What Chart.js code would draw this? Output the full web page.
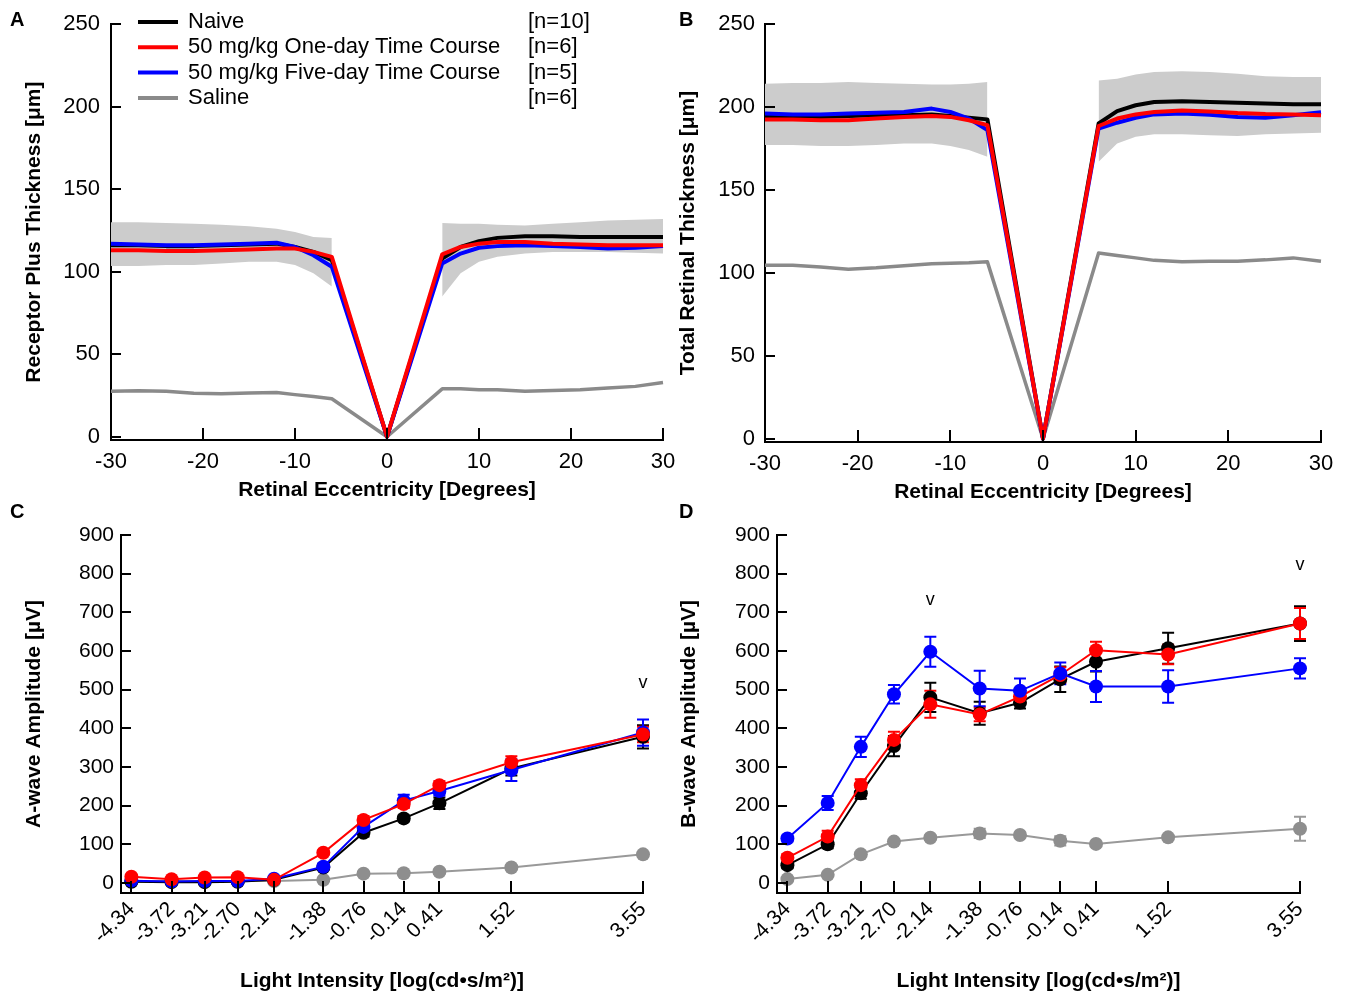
<!DOCTYPE html>
<html>
<head>
<meta charset="utf-8">
<title>Retinal thickness and ERG amplitudes</title>
<script src="https://cdn.jsdelivr.net/npm/chart.js@4.4.1/dist/chart.umd.min.js"></script>
<style>
  html, body { margin: 0; padding: 0; background: #fff; }
  #wrap { position: relative; width: 1346px; height: 996px; }
  #wrap canvas { position: absolute; left: 0; top: 0; }
</style>
</head>
<body>
<div id="wrap">
  <canvas id="panelA" width="1346" height="996"></canvas>
  <canvas id="panelB" width="1346" height="996"></canvas>
  <canvas id="panelC" width="1346" height="996"></canvas>
  <canvas id="panelD" width="1346" height="996"></canvas>
</div>
<script>
// groups
const groupNames = ["Naive", "50 mg/kg One-day Time Course", "50 mg/kg Five-day Time Course", "Saline"];
const groupCounts = ["[n=10]", "[n=6]", "[n=5]", "[n=6]"];

// OCT thickness profiles (µm) along the eccentricity axis
const eccentricity = [-30, -27, -24, -21, -18, -15, -12, -10, -8, -6, 0, 6, 8, 10, 12, 15, 18, 21, 24, 27, 30];
const eccLeft = [-30, -27, -24, -21, -18, -15, -12, -10, -8, -6];
const eccRight = [6, 8, 10, 12, 15, 18, 21, 24, 27, 30];
const eccTicks = [-30, -20, -10, 0, 10, 20, 30];
const thicknessTicks = [0, 50, 100, 150, 200, 250];

const receptorNaive = [116, 116, 115.5, 115.5, 116, 116.5, 117, 115, 112, 107, 0, 108, 115, 118.5, 120.5, 121.5, 121.5, 121, 121, 121, 121];
const receptorOneDay = [113, 113, 112.5, 112.5, 113, 113.5, 114, 114, 112, 109, 0, 110.5, 115, 117, 118, 118, 117, 116.5, 116, 116, 116];
const receptorFiveDay = [117, 116.5, 116, 116, 116.5, 117, 117.5, 115, 110, 103, 0, 105, 111, 114.5, 115.5, 116, 115.5, 115, 114, 114.5, 115.5];
const receptorSaline = [27.5, 27.8, 27.5, 26.3, 26, 26.5, 26.8, 25.5, 24.3, 23, 0, 29, 29, 28.5, 28.5, 27.5, 28, 28.5, 29.5, 30.5, 32.8];
const receptorBandUpperL = [130, 130, 129.5, 129, 128.5, 127.5, 126, 124, 121, 120.5];
const receptorBandLowerL = [103.5, 103.5, 104, 104, 105, 106, 106, 104, 99, 91];
const receptorBandUpperR = [129.5, 129, 129, 128.5, 128, 129, 130, 131, 131.5, 132];
const receptorBandLowerR = [85, 99, 106, 109, 111, 112, 112, 112, 111.5, 111];

const totalNaive = [194, 194, 194, 194.5, 195, 195, 195.5, 194.5, 193.5, 192.5, 0, 190, 197.5, 201, 203, 203.5, 203, 202.5, 202, 201.6, 201.6];
const totalOneDay = [192.5, 192.5, 192, 192, 193, 194, 194.5, 194, 192, 189, 0, 188.5, 193, 195.5, 197, 197.8, 197.3, 196.3, 195.7, 195.5, 195];
const totalFiveDay = [196, 195.5, 195.5, 196, 196.5, 197, 199, 197, 193, 186, 0, 187, 190.5, 193.5, 195.5, 196, 195.3, 194, 193.5, 195, 196.8];
const totalSaline = [104.5, 104.5, 103.5, 102.2, 103, 104.2, 105.5, 105.8, 106, 106.6, 0, 112, 110.5, 109, 107.5, 106.6, 107, 107, 107.8, 109, 107];
const totalBandUpperL = [214, 214.5, 214.5, 215, 214.5, 214, 213.5, 213.5, 214, 215];
const totalBandLowerL = [177, 177, 176.5, 176.5, 177, 178, 178, 176.5, 174, 170];
const totalBandUpperR = [216, 217, 219.5, 221, 221.5, 221, 220, 218.5, 218, 218];
const totalBandLowerR = [167, 178, 182, 183.5, 183.5, 183, 182.5, 183.5, 184, 184.5];

// ERG amplitudes (µV) vs flash intensity
const lightLevels = [-4.34, -3.72, -3.21, -2.70, -2.14, -1.38, -0.76, -0.14, 0.41, 1.52, 3.55];
const lightTickLabels = ["-4.34", "-3.72", "-3.21", "-2.70", "-2.14", "-1.38", "-0.76", "-0.14", "0.41", "1.52", "3.55"];
const amplitudeTicks = [0, 100, 200, 300, 400, 500, 600, 700, 800, 900];

const aWaveNaive = [3, 2, 2, 3, 8, 40, 130, 167, 206, 296, 378];
const aWaveNaiveErr = [3, 3, 3, 3, 3, 5, 10, 8, 15, 18, 30];
const aWaveOneDay = [16, 9.5, 14, 15, 8, 78, 163, 204, 253, 312, 384];
const aWaveOneDayErr = [3, 3, 3, 3, 3, 6, 10, 10, 10, 16, 20];
const aWaveFiveDay = [6, 4, 5, 5, 11, 42, 145, 213, 238, 292, 389];
const aWaveFiveDayErr = [3, 3, 3, 3, 3, 8, 10, 15, 12, 28, 34];
const aWaveSaline = [5, 5, 5, 5, 5, 8, 24, 25, 29, 40, 74];
const aWaveSalineErr = [2, 2, 2, 2, 2, 3, 4, 4, 5, 5, 6];

const bWaveNaive = [46, 100, 232, 354, 480, 439, 466, 527, 572, 607, 671];
const bWaveNaiveErr = [8, 10, 14, 26, 38, 30, 15, 33, 25, 40, 45];
const bWaveOneDay = [65, 120, 253, 370, 462, 436, 482, 538, 602, 591, 671];
const bWaveOneDayErr = [10, 15, 15, 21, 35, 18, 15, 20, 22, 25, 40];
const bWaveFiveDay = [115, 207, 352, 488, 598, 503, 497, 542, 508, 508, 555];
const bWaveFiveDayErr = [8, 18, 26, 24, 39, 46, 32, 28, 40, 42, 26];
const bWaveSaline = [10, 21, 74, 107, 117, 128, 124, 109, 101, 118, 140];
const bWaveSalineErr = [3, 3, 5, 5, 6, 12, 6, 12, 5, 5, 31];

// significance marks ("v") placed above the groups
const aSigX = [3.55];
const aSigY = [517];
const bSigX = [-2.14, 3.55];
const bSigY = [732, 822];

const FONT = '"Liberation Sans", Arial, Helvetica, sans-serif';
Chart.defaults.font.family = FONT;
Chart.defaults.color = '#000';

const lineColors = ["#000000", "#ff0000", "#0000ff", "#8a8a8a"];
const pointColors = ["#000000", "#ff0000", "#0000ff", "#8e8e8e"];
const ergLineColors = ["#000000", "#ff0000", "#0000ff", "#999999"];
const bandColor = "#cccccc";

const pairs = (xs, ys) => xs.map((x, i) => ({ x: x, y: ys[i] }));

// tick marks pointing into the plot, taken from each scale's ticks
const inwardTicks = {
  id: 'inwardTicks',
  afterDatasetsDraw(chart, args, opts) {
    const ctx = chart.ctx;
    const xs = chart.scales.x, ys = chart.scales.y;
    ctx.save();
    ctx.strokeStyle = '#000';
    ctx.lineWidth = 2;
    xs.ticks.forEach((t, i) => {
      const px = Math.round(xs.getPixelForTick(i));
      ctx.beginPath();
      ctx.moveTo(px, xs.top);
      ctx.lineTo(px, xs.top - opts.xLength);
      ctx.stroke();
    });
    ys.ticks.forEach((t, i) => {
      const py = Math.round(ys.getPixelForTick(i));
      ctx.beginPath();
      ctx.moveTo(ys.right, py);
      ctx.lineTo(ys.right + opts.yLength, py);
      ctx.stroke();
    });
    ctx.restore();
  }
};

// vertical error bars with caps, drawn under the points
const errorBars = {
  id: 'errorBars',
  beforeDatasetsDraw(chart) {
    const ctx = chart.ctx;
    const ys = chart.scales.y;
    chart.data.datasets.forEach((ds, di) => {
      if (!ds.errors) return;
      const meta = chart.getDatasetMeta(di);
      ctx.save();
      ctx.strokeStyle = ds.borderColor;
      ctx.lineWidth = 2;
      meta.data.forEach((pt, i) => {
        const v = ds.data[i].y, e = ds.errors[i];
        const top = ys.getPixelForValue(v + e);
        const bot = ys.getPixelForValue(v - e);
        ctx.beginPath();
        ctx.moveTo(pt.x, top); ctx.lineTo(pt.x, bot);
        ctx.moveTo(pt.x - 6, top); ctx.lineTo(pt.x + 6, top);
        ctx.moveTo(pt.x - 6, bot); ctx.lineTo(pt.x + 6, bot);
        ctx.stroke();
      });
      ctx.restore();
    });
  }
};

// panel letter, legend block and significance marks
const annotations = {
  id: 'annotations',
  afterDraw(chart, args, opts) {
    const ctx = chart.ctx;
    ctx.save();
    ctx.fillStyle = '#000';
    ctx.textBaseline = 'middle';
    ctx.font = 'bold 20px ' + FONT;
    ctx.fillText(opts.letter, opts.letterX, opts.letterY);

    if (opts.sigX) {
      ctx.font = '18px ' + FONT;
      ctx.textAlign = 'center';
      opts.sigX.forEach((x, i) => {
        ctx.fillText('v', chart.scales.x.getPixelForValue(x), chart.scales.y.getPixelForValue(opts.sigY[i]));
      });
    }

    if (opts.legend) {
      ctx.font = '22px ' + FONT;
      ctx.textAlign = 'left';
      groupNames.forEach((name, i) => {
        const y = 22 + i * 25.3;
        ctx.strokeStyle = lineColors[i];
        ctx.lineWidth = 4;
        ctx.beginPath();
        ctx.moveTo(138, y);
        ctx.lineTo(178, y);
        ctx.stroke();
        ctx.fillText(name, 188, y);
        ctx.fillText(groupCounts[i], 528, y);
      });
    }
    ctx.restore();
  }
};

function axisY(o, ticks, min, max) {
  return {
    type: 'linear', min: min, max: max,
    afterBuildTicks: s => { s.ticks = ticks.map(v => ({ value: v })); },
    afterFit: s => { s.width = 100; },
    grid: { display: false, drawTicks: false },
    border: { display: true, color: '#000', width: 2 },
    ticks: { font: { size: o.tickSize }, padding: o.yTickPad, color: '#000' },
    title: { display: true, text: o.yTitle, font: { size: 21, weight: 'bold' }, padding: { top: o.yTitlePad, bottom: 0 } }
  };
}

function profileChart(id, o) {
  const datasets = [
    { data: pairs(eccLeft, o.bands[0]), borderWidth: 0, borderColor: 'rgba(0,0,0,0)', pointRadius: 0, fill: false, order: 10 },
    { data: pairs(eccLeft, o.bands[1]), borderWidth: 0, borderColor: 'rgba(0,0,0,0)', pointRadius: 0, fill: '-1', backgroundColor: bandColor, order: 10 },
    { data: pairs(eccRight, o.bands[2]), borderWidth: 0, borderColor: 'rgba(0,0,0,0)', pointRadius: 0, fill: false, order: 10 },
    { data: pairs(eccRight, o.bands[3]), borderWidth: 0, borderColor: 'rgba(0,0,0,0)', pointRadius: 0, fill: '-1', backgroundColor: bandColor, order: 10 }
  ];
  const lineOrder = [3, 1, 2, 4];
  o.series.forEach((ys, i) => {
    datasets.push({
      label: groupNames[i],
      data: pairs(eccentricity, ys),
      borderColor: lineColors[i],
      borderWidth: i === 3 ? 3.5 : 4,
      borderJoinStyle: 'round',
      pointRadius: 0,
      fill: false,
      tension: 0,
      order: lineOrder[i],
      clip: false
    });
  });

  return new Chart(document.getElementById(id), {
    type: 'line',
    data: { datasets: datasets },
    options: {
      responsive: false,
      animation: false,
      devicePixelRatio: 1,
      layout: { padding: o.padding },
      plugins: {
        legend: { display: false },
        tooltip: { enabled: false },
        filler: { propagate: false, drawTime: 'beforeDatasetsDraw' },
        inwardTicks: { xLength: 12, yLength: 10 },
        annotations: { letter: o.letter, letterX: o.letterX, letterY: 20, legend: o.legend }
      },
      scales: {
        x: {
          type: 'linear', min: -30, max: 30,
          afterBuildTicks: s => { s.ticks = eccTicks.map(v => ({ value: v })); },
          afterFit: s => { s.height = 65; },
          grid: { display: false, drawTicks: false },
          border: { display: true, color: '#000', width: 2 },
          ticks: { font: { size: 22 }, padding: 9, maxRotation: 0, color: '#000' },
          title: { display: true, text: 'Retinal Eccentricity [Degrees]', font: { size: 21, weight: 'bold' }, padding: { top: 0, bottom: 2 } }
        },
        y: axisY(o, thicknessTicks, -2, 250)
      }
    },
    plugins: [inwardTicks, annotations]
  });
}

function ergChart(id, o) {
  const datasets = o.series.map((ys, i) => ({
    label: groupNames[i],
    data: pairs(lightLevels, ys),
    errors: o.errors[i],
    borderColor: ergLineColors[i],
    backgroundColor: pointColors[i],
    pointBackgroundColor: pointColors[i],
    pointBorderWidth: 0,
    pointRadius: 7,
    borderWidth: 2,
    fill: false,
    tension: 0,
    order: o.order[i],
    clip: false
  }));

  return new Chart(document.getElementById(id), {
    type: 'line',
    data: { datasets: datasets },
    options: {
      responsive: false,
      animation: false,
      devicePixelRatio: 1,
      layout: { padding: o.padding },
      plugins: {
        legend: { display: false },
        tooltip: { enabled: false },
        inwardTicks: { xLength: 12, yLength: 10 },
        annotations: { letter: o.letter, letterX: o.letterX, letterY: 512, sigX: o.sigX, sigY: o.sigY }
      },
      scales: {
        x: {
          type: 'linear', min: -4.5, max: 3.55,
          afterBuildTicks: s => { s.ticks = lightLevels.map(v => ({ value: v })); },
          afterFit: s => { s.height = 102; },
          grid: { display: false, drawTicks: false },
          border: { display: true, color: '#000', width: 2 },
          ticks: {
            font: { size: 21 }, padding: 4, color: '#000',
            autoSkip: false, minRotation: 45, maxRotation: 45,
            callback: (v, i) => lightTickLabels[i]
          },
          title: { display: true, text: 'Light Intensity [log(cd•s/m²)]', font: { size: 21, weight: 'bold' }, padding: { top: 0, bottom: 1 } }
        },
        y: axisY(o, amplitudeTicks, -26, 900)
      }
    },
    plugins: [errorBars, inwardTicks, annotations]
  });
}

profileChart('panelA', {
  letter: 'A', letterX: 10, legend: true,
  padding: { left: 11, right: 683, top: 23, bottom: 491 },
  tickSize: 22, yTickPad: 11, yTitlePad: 11,
  yTitle: 'Receptor Plus Thickness [μm]',
  series: [receptorNaive, receptorOneDay, receptorFiveDay, receptorSaline],
  bands: [receptorBandUpperL, receptorBandLowerL, receptorBandUpperR, receptorBandLowerR]
});

profileChart('panelB', {
  letter: 'B', letterX: 679, legend: false,
  padding: { left: 665, right: 25, top: 24, bottom: 489 },
  tickSize: 22, yTickPad: 10, yTitlePad: 11,
  yTitle: 'Total Retinal Thickness [μm]',
  series: [totalNaive, totalOneDay, totalFiveDay, totalSaline],
  bands: [totalBandUpperL, totalBandLowerL, totalBandUpperR, totalBandLowerR]
});

ergChart('panelC', {
  letter: 'C', letterX: 10,
  padding: { left: 21, right: 703, top: 535, bottom: 1 },
  tickSize: 21, yTickPad: 7, yTitlePad: 1,
  yTitle: 'A-wave Amplitude [µV]',
  series: [aWaveNaive, aWaveOneDay, aWaveFiveDay, aWaveSaline],
  errors: [aWaveNaiveErr, aWaveOneDayErr, aWaveFiveDayErr, aWaveSalineErr],
  order: [3, 1, 2, 4],
  sigX: aSigX, sigY: aSigY
});

ergChart('panelD', {
  letter: 'D', letterX: 679,
  padding: { left: 677, right: 46, top: 535, bottom: 1 },
  tickSize: 21, yTickPad: 7, yTitlePad: 0,
  yTitle: 'B-wave Amplitude [µV]',
  series: [bWaveNaive, bWaveOneDay, bWaveFiveDay, bWaveSaline],
  errors: [bWaveNaiveErr, bWaveOneDayErr, bWaveFiveDayErr, bWaveSalineErr],
  order: [3, 2, 1, 4],
  sigX: bSigX, sigY: bSigY
});
</script>
</body>
</html>
